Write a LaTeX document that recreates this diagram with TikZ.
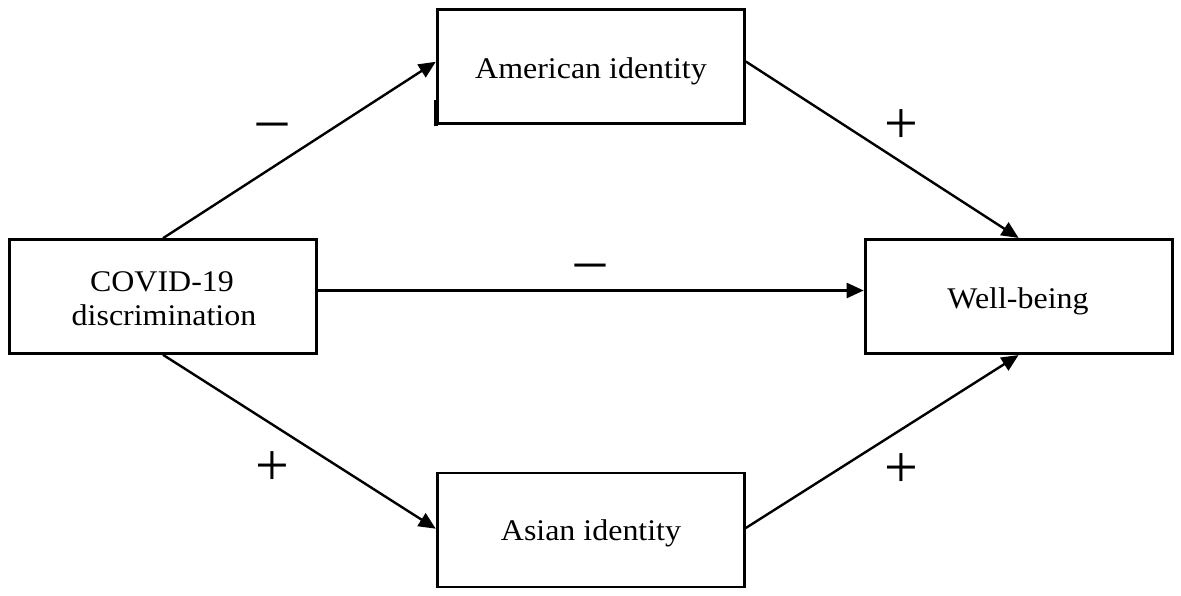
\documentclass[tikz,border=0pt]{standalone}
\usepackage{fontspec}
\setmainfont{Liberation Serif}
\usetikzlibrary{arrows.meta}
\newcommand{\widetxt}[1]{\scalebox{1.065}[1]{#1}}
\begin{document}
\begin{tikzpicture}[x=1pt,y=-1pt,
  box/.style={draw, line width=2.6pt, minimum width=307pt, minimum height=114pt, inner sep=0pt},
  txt/.style={anchor=base, inner sep=0pt, font=\fontsize{30}{30}\selectfont},
  conn/.style={line width=2.4pt, -{Triangle[length=17pt,width=15pt]}, shorten >=0.5pt},
  sign/.style={font=\fontsize{60}{60}\selectfont, inner sep=0pt}]
\useasboundingbox (0,0) rectangle (1181,596);
\node[box] (cov) at (163,296.5) {};
\node[box] (am) at (591,66.5) {};
\node[box] (wb) at (1019,296.5) {};
\node[box] (as) at (591,530) {};
\node[txt] (covt1) at (162,291.7) {\widetxt{COVID-19}};
\node[txt] (covt2) at (164,325) {\widetxt{discrimination}};
\node[txt] (amt) at (591,78.3) {\widetxt{American identity}};
\node[txt] (wbt) at (1018,308.3) {\widetxt{Well-being}};
\node[txt] (ast) at (591,540) {\widetxt{Asian identity}};
\draw[line width=4pt] ([yshift=-1.5pt,xshift=-0.5pt]am.south west) -- ++(0,-26);
\draw[conn] (cov.north) -- ([yshift=5pt]am.west);
\draw[conn] (cov.south) -- ([yshift=1pt]as.west);
\draw[conn] ([yshift=6pt]cov.east) -- ([yshift=6pt]wb.west);
\draw[conn] ([yshift=5pt]am.east) -- (wb.north);
\draw[conn] ([yshift=2pt]as.east) -- (wb.south);
\node[sign] (s1) at (272,134) {\scalebox{1.12}[1]{−}};
\node[sign] (s2) at (901,127) {+};
\node[sign] (s3) at (590,275) {\scalebox{1.12}[1]{−}};
\node[sign] (s4) at (272,469) {+};
\node[sign] (s5) at (901,471) {+};
\end{tikzpicture}
\end{document}
